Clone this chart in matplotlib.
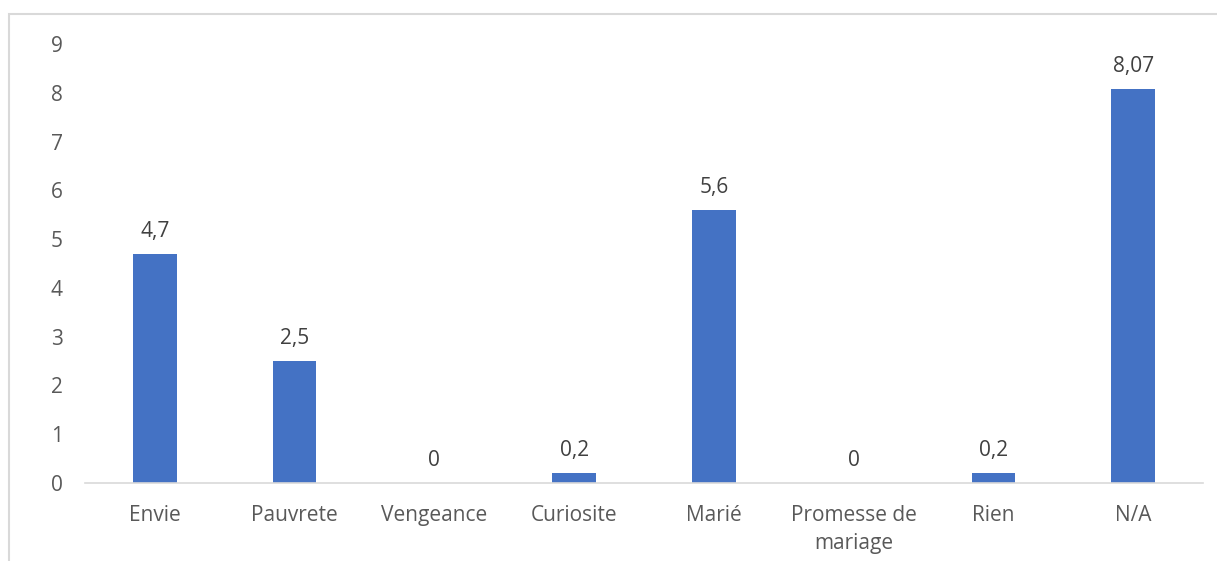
import matplotlib.pyplot as plt
from matplotlib.patches import Rectangle

categories = ["Envie", "Pauvrete", "Vengeance", "Curiosite", "Marié",
              "Promesse de\nmariage", "Rien", "N/A"]
values = [4.7, 2.5, 0, 0.2, 5.6, 0, 0.2, 8.07]
labels = ["4,7", "2,5", "0", "0,2", "5,6", "0", "0,2", "8,07"]
yticks = list(range(0, 10))

W, H = 1217, 561
fig = plt.figure(figsize=(W / 100, H / 100), dpi=100)
plt.rcParams["font.family"] = ["Open Sans", "DejaVu Sans"]

# chart border (runs off the right and bottom edges)
fig.patches.append(Rectangle((9 / W, -0.1), 1.2, (H - 14) / H + 0.1,
                             transform=fig.transFigure, fill=False,
                             edgecolor="#d9d9d9", linewidth=1.5))

ax = fig.add_axes([85 / W, (H - 483) / H, (1203 - 85) / W, (483 - 44) / H])
x = range(len(categories))
ax.bar(x, values, width=0.31, color="#4472c4")
for xi, v, lab in zip(x, values, labels):
    ax.text(xi, v + 0.25, lab, ha="center", va="bottom", fontsize=15,
            color="#404040")

ax.set_xlim(-0.5, len(categories) - 0.5)
ax.set_ylim(0, 9)
ax.set_yticks(yticks)
ax.set_xticks(list(x))
ax.set_xticklabels(categories, linespacing=1.4)
for spine in ["top", "right", "left"]:
    ax.spines[spine].set_visible(False)
ax.spines["bottom"].set_color("#d9d9d9")
ax.spines["bottom"].set_linewidth(1.2)
ax.tick_params(axis="both", length=0, labelsize=15, labelcolor="#595959")
ax.tick_params(axis="y", pad=16)
ax.tick_params(axis="x", pad=16)

fig.savefig("out.png", dpi=100)
